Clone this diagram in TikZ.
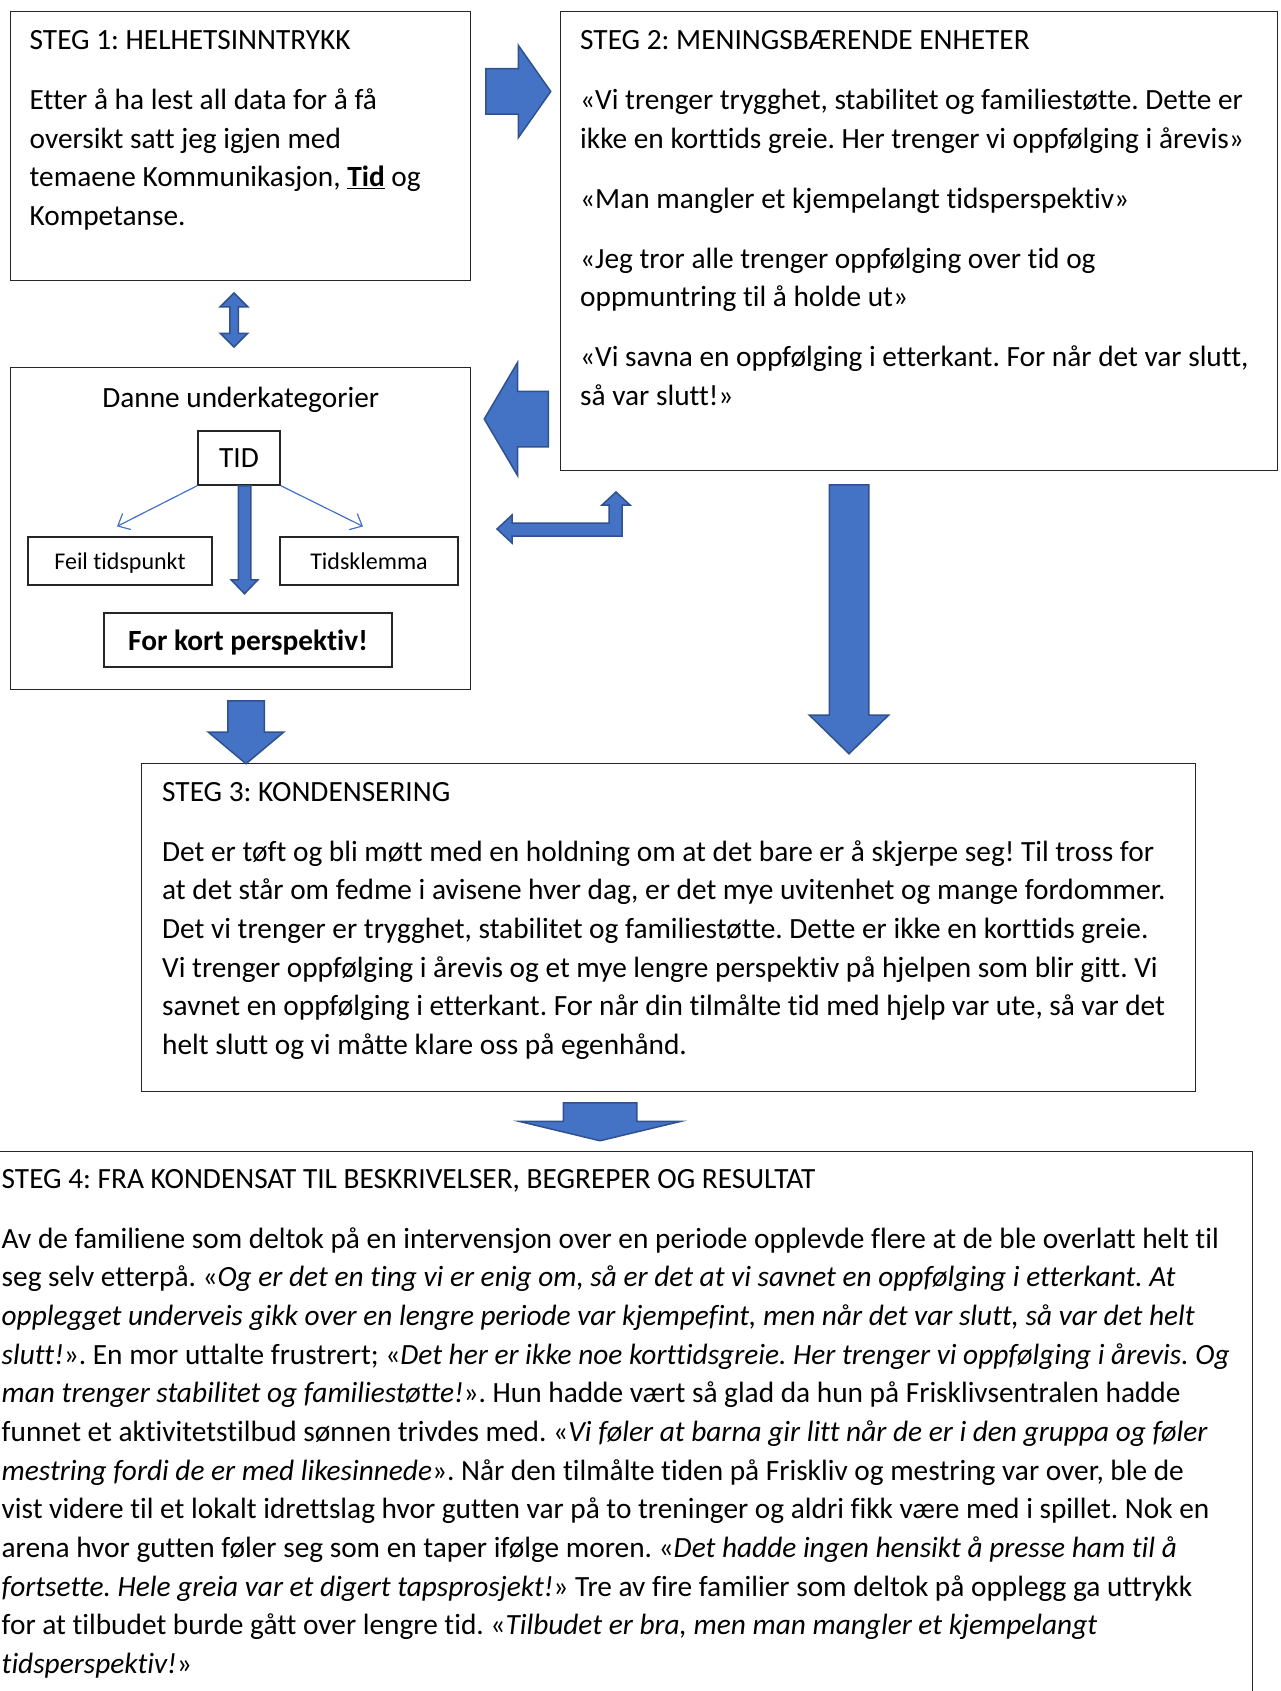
\documentclass[tikz,border=0pt]{standalone}
\usepackage{fontspec}
\setmainfont{Carlito}[Ligatures=NoCommon, Contextuals=NoAlternate]
\usetikzlibrary{arrows.meta, calc, shapes.arrows}
\definecolor{fillblue}{HTML}{4472C4}
\definecolor{edgeblue}{HTML}{2F528F}
\newcommand\bodyfont{\fontsize{29.33}{38.66}\selectfont}
\newcommand\tagfont{\fontsize{24}{30}\selectfont}
\newcommand\topline{\rule{0pt}{29pt}}
\frenchspacing
\tikzset{
  panel/.style={rectangle, draw=black!85, line width=1.4pt, inner sep=0pt, anchor=north west},
  tag/.style={rectangle, draw=black!85, line width=1.2pt, inner sep=0pt, text depth=0pt, font=\bodyfont},
  txt/.style={anchor=north west, inner sep=0pt, align=left, font=\bodyfont},
  blk/.style={fill=fillblue, draw=edgeblue, line width=1.5pt},
  sarr/.style={blk, single arrow, anchor=tail, inner xsep=0pt, single arrow head indent=0pt},
  darr/.style={blk, double arrow, inner xsep=0pt, double arrow head indent=0pt},
  link/.style={-{Straight Barb[length=10pt, width=18pt]}, draw=fillblue, line width=1.2pt},
}

\begin{document}
\begin{tikzpicture}[x=1pt, y=-1pt]
  \useasboundingbox (0,0) rectangle (1280,1691);

  % frames
  \node[panel, minimum width=460pt, minimum height=269pt] (s1) at (10,11) {};
  \node[panel, minimum width=717pt, minimum height=459pt] (s2) at (560,11) {};
  \node[panel, minimum width=460pt, minimum height=322pt] (sub) at (10,367) {};
  \node[panel, minimum width=1054pt, minimum height=328pt] (s3) at (141,763) {};
  \node[panel, minimum width=1270pt, minimum height=600pt] (s4) at (-18,1151) {};

  \node[txt] (t1) at ($(s1.north west)+(19.5,9.5)$) {\topline STEG 1: HELHETSINNTRYKK\\[21.3pt]
    Etter å ha lest all data for å få\\
    oversikt satt jeg igjen med\\
    temaene Kommunikasjon, \underline{\textbf{Tid}} og\\
    Kompetanse.};

  \node[txt] (t2) at ($(s2.north west)+(20,9.5)$) {\topline STEG 2: MENINGSBÆRENDE ENHETER\\[21.3pt]
    «Vi trenger trygghet, stabilitet og familiestøtte. Dette er\\
    ikke en korttids greie. Her trenger vi oppfølging i årevis»\\[21.3pt]
    «Man mangler et kjempelangt tidsperspektiv»\\[21.3pt]
    «Jeg tror alle trenger oppfølging over tid og\\
    oppmuntring til å holde ut»\\[21.3pt]
    «Vi savna en oppfølging i etterkant. For når det var slutt,\\
    så var slutt!»};

  \node[anchor=base, inner sep=0pt, font=\bodyfont] (lbl) at ($(sub.north)+(0,40)$) {Danne underkategorier};
  \node[tag, minimum width=82pt, minimum height=54pt] (tid) at (239,458) {TID};
  \node[tag, font=\tagfont, minimum width=184pt, minimum height=48pt] (feil) at (120,561) {Feil tidspunkt};
  \node[tag, font=\tagfont, minimum width=178pt, minimum height=48pt] (klem) at (369,561) {Tidsklemma};
  \node[tag, font=\bodyfont\bfseries, minimum width=288pt, minimum height=54pt] (kort) at (248,640) {For kort perspektiv!};

  \coordinate (fl) at ($(feil.north)+(-3,-10)$);
  \coordinate (kl) at ($(klem.north)+(-6,-10)$);
  \draw[link] (tid.south west) -- (fl);
  \draw[link] (tid.south east) -- (kl);

  \node[txt] (t3) at ($(s3.north west)+(21,9)$) {\topline STEG 3: KONDENSERING\\[21.3pt]
    Det er tøft og bli møtt med en holdning om at det bare er å skjerpe seg! Til tross for\\
    at det står om fedme i avisene hver dag, er det mye uvitenhet og mange fordommer.\\
    Det vi trenger er trygghet, stabilitet og familiestøtte. Dette er ikke en korttids greie.\\
    Vi trenger oppfølging i årevis og et mye lengre perspektiv på hjelpen som blir gitt. Vi\\
    savnet en oppfølging i etterkant. For når din tilmålte tid med hjelp var ute, så var det\\
    helt slutt og vi måtte klare oss på egenhånd.};

  \node[txt] (t4) at ($(s4.north west)+(19.5,8)$) {\topline STEG 4: FRA KONDENSAT TIL BESKRIVELSER, BEGREPER OG RESULTAT\\[21.3pt]
    Av de familiene som deltok på en intervensjon over en periode opplevde flere at de ble overlatt helt til\\
    seg selv etterpå. «\textit{Og er det en ting vi er enig om, så er det at vi savnet en oppfølging i etterkant. At}\\
    \textit{opplegget underveis gikk over en lengre periode var kjempefint, men når det var slutt, så var det helt}\\
    \textit{slutt!}». En mor uttalte frustrert; «\textit{Det her er ikke noe korttidsgreie. Her trenger vi oppfølging i årevis. Og}\\
    \textit{man trenger stabilitet og familiestøtte!}». Hun hadde vært så glad da hun på Frisklivsentralen hadde\\
    funnet et aktivitetstilbud sønnen trivdes med. «\textit{Vi føler at barna gir litt når de er i den gruppa og føler}\\
    \textit{mestring fordi de er med likesinnede}». Når den tilmålte tiden på Friskliv og mestring var over, ble de\\
    vist videre til et lokalt idrettslag hvor gutten var på to treninger og aldri fikk være med i spillet. Nok en\\
    arena hvor gutten føler seg som en taper ifølge moren. «\textit{Det hadde ingen hensikt å presse ham til å}\\
    \textit{fortsette. Hele greia var et digert tapsprosjekt!}» Tre av fire familier som deltok på opplegg ga uttrykk\\
    for at tilbudet burde gått over lengre tid. «\textit{Tilbudet er bra, men man mangler et kjempelangt}\\
    \textit{tidsperspektiv!}»};

  % block arrows
  \node[sarr, inner ysep=22pt, minimum height=65pt, minimum width=91pt, single arrow head extend=23.5pt,
        single arrow tip angle=109.8] (a12) at (485,91.5) {};
  \node[sarr, rotate=180, inner ysep=27pt, minimum height=64pt, minimum width=112pt, single arrow head extend=29pt,
        single arrow tip angle=119] (a21) at (549,419) {};
  \node[darr, rotate=90, inner ysep=3.5pt, minimum height=54pt, minimum width=26pt, double arrow head extend=9.5pt,
        double arrow tip angle=90] (a1d) at (234,320) {};
  \node[sarr, rotate=-90, inner ysep=5.5pt, minimum height=108pt, minimum width=25pt, single arrow head extend=7pt,
        single arrow tip angle=87.7] (atid) at (244.5,485) {};
  \node[sarr, rotate=-90, inner ysep=17.5pt, minimum height=63pt, minimum width=74pt, single arrow head extend=19.5pt,
        single arrow tip angle=100] (adl) at (246,700) {};
  \node[sarr, rotate=-90, inner ysep=19pt, minimum height=269pt, minimum width=78pt, single arrow head extend=20pt,
        single arrow tip angle=91.5] (adr) at (849,484) {};
  \node[sarr, rotate=-90, inner ysep=36pt, minimum height=38pt, minimum width=160pt, single arrow head extend=44pt,
        single arrow tip angle=153] (a34) at (600,1102) {};
  \draw[blk] (497,529) -- (512,515) -- (512,523) -- (609,523) -- (609,505) -- (602,505) -- (616,492)
    -- (630,505) -- (622,505) -- (622,536) -- (512,536) -- (512,543) -- cycle;
\end{tikzpicture}
\end{document}
